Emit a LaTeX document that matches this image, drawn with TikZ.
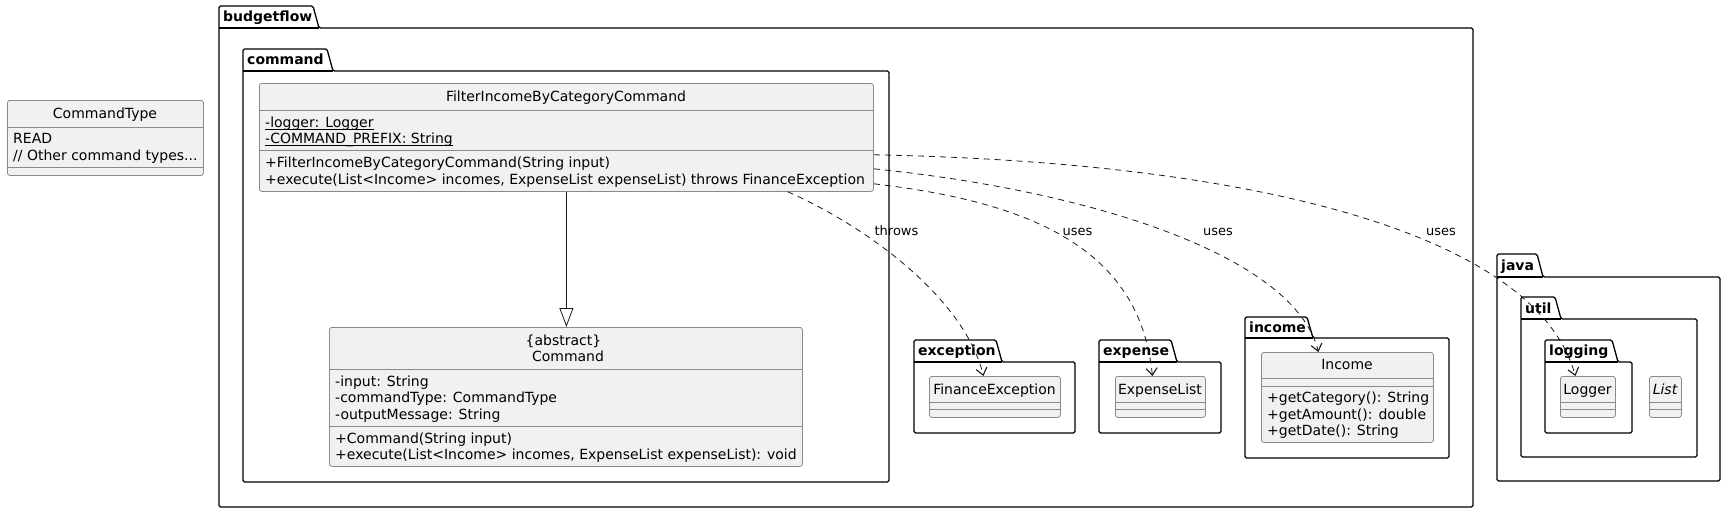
\documentclass[tikz,border=0pt]{standalone}
\usepackage{fontspec}
\setmainfont{DejaVu Sans}
\usetikzlibrary{arrows.meta}
\definecolor{clsfill}{HTML}{F1F1F1}
\definecolor{clsline}{HTML}{8A8A8A}
\definecolor{linkcol}{HTML}{181818}
\tikzset{
  clsbox/.style={draw=clsline, fill=clsfill, line width=0.8pt, rounded corners=2.5pt, anchor=north west, inner sep=0pt},
  sepline/.style={draw=clsline, line width=0.8pt},
  pkg/.style={draw=black, fill=white, line width=1.3pt, rounded corners=1.5pt, line join=round},
  pkglabel/.style={font=\fontsize{14}{16}\selectfont\bfseries, anchor=base west, inner sep=0pt},
  member/.style={font=\fontsize{14}{16}\selectfont, anchor=base west, inner sep=0pt},
  clstitle/.style={font=\fontsize{14}{16}\selectfont, anchor=base, inner sep=0pt},
  linklabel/.style={font=\fontsize{13}{15}\selectfont, anchor=base, inner sep=0pt},
  uses/.style={draw=linkcol, line width=0.8pt, dash pattern=on 6pt off 5pt, -{Straight Barb[length=7pt,width=11pt,line width=1.1pt]}},
  inherit/.style={draw=linkcol, line width=0.8pt, -{Triangle[open,fill=white,length=19pt,width=14pt]}},
  static/.style={draw=black, line width=0.8pt}
}
\begin{document}
\begin{tikzpicture}[x=1pt, y=-1pt]
    \useasboundingbox[fill=white] (0,0) rectangle (1726,512);

    \draw[pkg] (219,507) -- (219,6) -- (313,6) -- (319,28) -- (1473,28) -- (1473,507) -- cycle;
    \draw[pkg] (219,28) -- (319,28);
    \node[pkglabel] (budgetflowlbl) at (223,21) {budgetflow};
    \draw[pkg] (243,482) -- (243,49) -- (327,49) -- (333,71) -- (889,71) -- (889,482) -- cycle;
    \draw[pkg] (243,71) -- (333,71);
    \node[pkglabel] (commandlbl) at (247,64) {command};
    \draw[pkg] (914,433) -- (914,340) -- (996,340) -- (1002,362) -- (1075,362) -- (1075,433) -- cycle;
    \draw[pkg] (914,362) -- (1002,362);
    \node[pkglabel] (exceptionlbl) at (918,355) {exception};
    \draw[pkg] (1099,433) -- (1099,340) -- (1171,340) -- (1177,362) -- (1221,362) -- (1221,433) -- cycle;
    \draw[pkg] (1099,362) -- (1177,362);
    \node[pkglabel] (expenselbl) at (1103,355) {expense};
    \draw[pkg] (1245,458) -- (1245,317) -- (1307,317) -- (1313,338) -- (1449,338) -- (1449,458) -- cycle;
    \draw[pkg] (1245,338) -- (1313,338);
    \node[pkglabel] (incomelbl) at (1249,332) {income};
    \draw[pkg] (1497,481) -- (1497,254) -- (1537,254) -- (1543,277) -- (1720,277) -- (1720,481) -- cycle;
    \draw[pkg] (1497,277) -- (1543,277);
    \node[pkglabel] (javalbl) at (1501,270) {java};
    \draw[pkg] (1521,457) -- (1521,297) -- (1555,297) -- (1561,319) -- (1697,319) -- (1697,457) -- cycle;
    \draw[pkg] (1521,319) -- (1561,319);
    \node[pkglabel] (utillbl) at (1525,313) {util};
    \draw[pkg] (1545,433) -- (1545,340) -- (1612,340) -- (1618,362) -- (1632,362) -- (1632,433) -- cycle;
    \draw[pkg] (1545,362) -- (1618,362);
    \node[pkglabel] (logginglbl) at (1549,355) {logging};

    \node[clsbox, minimum width=196pt, minimum height=75pt] (cmdtype) at (7,100) {};
    \draw[sepline] (7,127) -- (203,127);
    \draw[sepline] (7,167) -- (203,167);
    \node[clstitle] (cmdtypename) at (105,118.5) {CommandType};
    \node[member] (cmdtyperead) at (13,143) {READ};
    \node[member] (cmdtypeother) at (13,160) {// Other command types...};

    \node[clsbox, minimum width=614pt, minimum height=108pt] (filter) at (259,83) {};
    \draw[sepline] (259,110.5) -- (873,110.5);
    \draw[sepline] (259,150.5) -- (873,150.5);
    \node[clstitle] (filtername) at (566,101.5) {FilterIncomeByCategoryCommand};
    \node[member] (filterlogger) at (265,127.3) {-logger: Logger};
    \node[member] (filterprefix) at (265,143.7) {-COMMAND\_PREFIX: String};
    \draw[static] ([yshift=-2pt]filterlogger.base west) -- ([yshift=-2pt]filterlogger.base east);
    \draw[static] ([yshift=-2pt]filterprefix.base west) -- ([yshift=-2pt]filterprefix.base east);
    \node[member] (filterctor) at (265,167.5) {+FilterIncomeByCategoryCommand(String input)};
    \node[member] (filterexec) at (265,184) {+execute(List<Income> incomes, ExpenseList expenseList) throws FinanceException};

    \node[clsbox, minimum width=473pt, minimum height=139pt] (cmd) at (329,327) {};
    \draw[sepline] (329,369) -- (802,369);
    \draw[sepline] (329,426) -- (802,426);
    \node[clstitle] (cmdstereo) at (563.5,345) {\{abstract\}};
    \node[clstitle] (cmdname) at (568,361) {Command};
    \node[member] (cmdinput) at (335,386) {-input: String};
    \node[member] (cmdtypefield) at (335,402.5) {-commandType: CommandType};
    \node[member] (cmdoutput) at (335,419) {-outputMessage: String};
    \node[member] (cmdctor) at (335,443) {+Command(String input)};
    \node[member] (cmdexec) at (335,459) {+execute(List<Income> incomes, ExpenseList expenseList): void};

    \node[clsbox, minimum width=131pt, minimum height=41pt] (fin) at (929,376) {};
    \draw[sepline] (929,402) -- (1060,402);
    \draw[sepline] (929,409) -- (1060,409);
    \node[clstitle] (finname) at (994.5,394) {FinanceException};

    \node[clsbox, minimum width=90pt, minimum height=41pt] (exp) at (1115,376) {};
    \draw[sepline] (1115,402) -- (1205,402);
    \draw[sepline] (1115,409) -- (1205,409);
    \node[clstitle] (expname) at (1160,394) {ExpenseList};

    \node[clsbox, minimum width=172pt, minimum height=90pt] (inc) at (1261,352) {};
    \draw[sepline] (1261,378) -- (1433,378);
    \draw[sepline] (1261,386) -- (1433,386);
    \node[clstitle] (incname) at (1347,369.5) {Income};
    \node[member] (inccat) at (1267,402.5) {+getCategory(): String};
    \node[member] (incamount) at (1267,419) {+getAmount(): double};
    \node[member] (incdate) at (1267,435.5) {+getDate(): String};

    \node[clsbox, minimum width=55pt, minimum height=41pt] (logger) at (1560,376) {};
    \draw[sepline] (1560,402) -- (1615,402);
    \draw[sepline] (1560,409) -- (1615,409);
    \node[clstitle] (loggername) at (1587.5,394) {Logger};

    \node[clsbox, minimum width=32pt, minimum height=41pt] (list) at (1649,376) {};
    \draw[sepline] (1649,402) -- (1681,402);
    \draw[sepline] (1649,409) -- (1681,409);
    \node[clstitle] (listname) at (1665,394) {\itshape List};

    \draw[inherit] (filter.south) -- (filter.south |- cmd.north);
    \draw[uses] ([xshift=-86pt]filter.south east) .. controls (870,228) and (965,300) .. ([xshift=-11.5pt]fin.north);
    \draw[uses] ([yshift=8pt]filter.south east) .. controls (1030,202) and (1140,248) .. ([xshift=-8pt]exp.north);
    \draw[uses] ([yshift=23pt]filter.south east) .. controls (1100,192) and (1295,258) .. ([xshift=-29pt]inc.north);
    \draw[uses] ([yshift=37pt]filter.south east) .. controls (1250,162) and (1535,232) .. ([xshift=-12.5pt]logger.north);
    \node[linklabel] (throwslbl) at (896.5,235.5) {throws};
    \node[linklabel] (usesexplbl) at (1077.5,235.5) {uses};
    \node[linklabel] (usesinclbl) at (1218,235.5) {uses};
    \node[linklabel] (useslogglbl) at (1441,235.5) {uses};
\end{tikzpicture}
\end{document}
